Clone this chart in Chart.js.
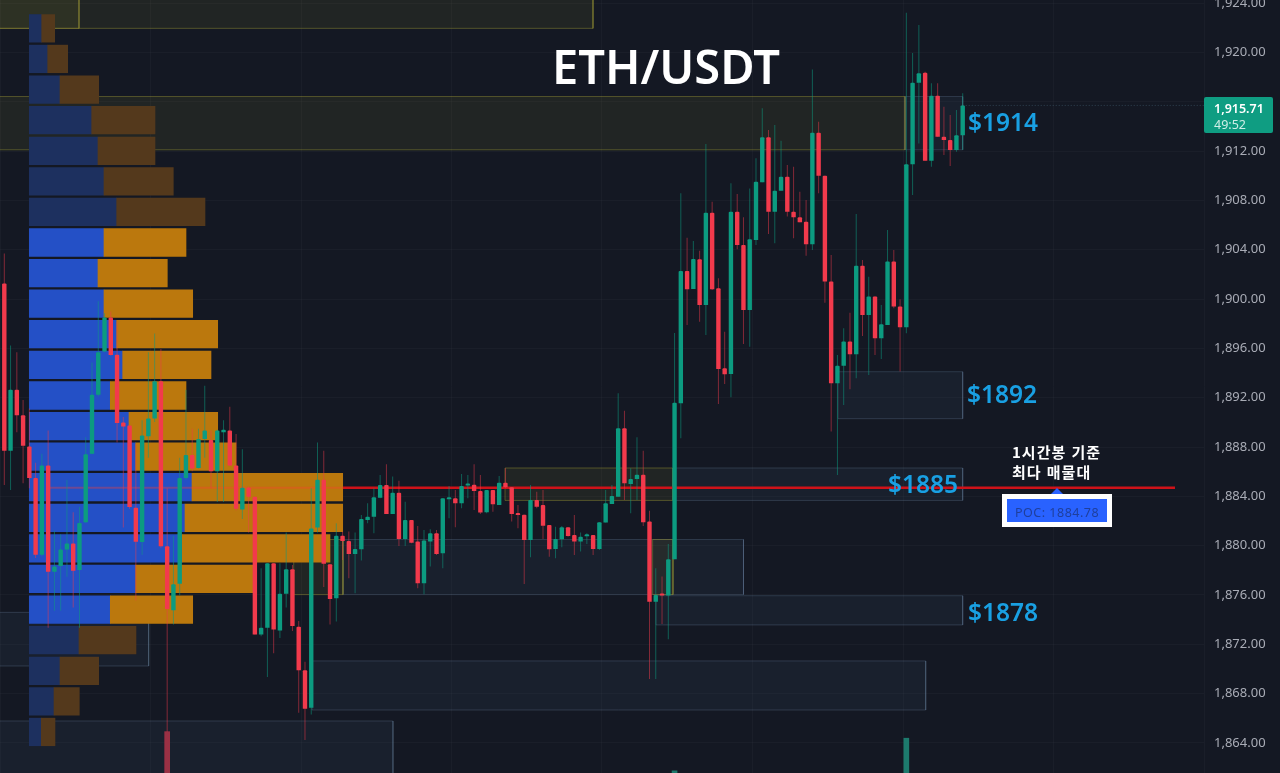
<!DOCTYPE html>
<html lang="ko">
<head>
<meta charset="utf-8">
<title>ETH/USDT</title>
<script src="https://cdn.jsdelivr.net/npm/chart.js@4"></script>
<style>
html,body{margin:0;padding:0;width:1280px;height:773px;overflow:hidden;background:#141823}
#c{position:absolute;left:0;top:0}
.t{position:absolute;white-space:nowrap;line-height:1}
.price{font:600 24.5px "Noto Sans",sans-serif;color:#19a0e3}
#title{left:552px;top:34px;font:600 47px "Noto Sans",sans-serif;color:#fff}
#tag{position:absolute;left:1204px;top:97px;width:69px;height:36px;background:#0f9d82;border-radius:2px}
#tag1{left:1214px;top:100px;font:600 12.5px "Noto Sans",sans-serif;color:#fff}
#tag2{left:1214px;top:116px;font:400 12.5px "Noto Sans",sans-serif;color:#cfeee7}
#poc{position:absolute;left:1002px;top:494px;width:100px;height:23px;border:5px solid #fff;background:#2962ff}
#poct{left:1015px;top:503.5px;font:400 12.5px "Noto Sans",sans-serif;color:#1f3f9c;letter-spacing:.5px}
#tri{position:absolute;left:1051px;top:488px;width:0;height:0;border-left:6px solid transparent;border-right:6px solid transparent;border-bottom:6px solid #2962ff}
.ko{font:700 15px "Noto Sans CJK KR",sans-serif;color:#fff;letter-spacing:1px}
</style>
</head>
<body>
<canvas id="c" width="1280" height="773"></canvas>
<div class="t" id="title">ETH/USDT</div>
<div class="t price" style="left:968px;top:105px">$1914</div>
<div class="t price" style="left:967px;top:377px">$1892</div>
<div class="t price" style="left:888px;top:467px">$1885</div>
<div class="t price" style="left:968px;top:595px">$1878</div>
<div id="tag"></div>
<div class="t" id="tag1">1,915.71</div>
<div class="t" id="tag2">49:52</div>
<div class="t ko" style="left:1012px;top:441px">1시간봉 기준</div>
<div class="t ko" style="left:1012px;top:461px">최다 매물대</div>
<div id="tri"></div>
<div id="poc"></div>
<div class="t" id="poct">POC: 1884.78</div>
<script>
const firstIndex = 23;
const opens = [1901.26,1887.69,1892.65,1890.58,1888.05,1885.48,1879.27,1886.50,1877.89,1878.36,1879.68,1880.18,1878.03,1881.89,1887.46,1892.24,1895.74,1898.50,1895.49,1889.98,1889.75,1883.08,1880.29,1888.87,1890.31,1893.34,1879.96,1874.77,1876.92,1885.48,1887.35,1886.30,1888.65,1888.57,1886.03,1889.20,1889.34,1886.50,1882.94,1884.70,1883.96,1872.79,1873.34,1878.58,1873.12,1876.10,1878.08,1873.42,1869.89,1866.86,1881.48,1885.34,1878.50,1875.73,1880.81,1880.38,1879.33,1879.70,1882.08,1882.35,1883.89,1884.92,1882.57,1884.30,1880.54,1882.08,1880.33,1876.95,1880.33,1881.00,1879.38,1883.76,1883.84,1883.43,1884.87,1884.95,1884.43,1882.70,1884.52,1883.30,1885.11,1884.73,1882.57,1882.51,1880.46,1883.70,1883.30,1881.68,1879.73,1880.51,1881.49,1880.87,1880.33,1880.76,1880.87,1879.73,1881.87,1883.38,1883.97,1889.52,1885.00,1885.41,1885.76,1881.95,1875.46,1876.08,1875.95,1878.89,1891.55,1902.28,1900.82,1903.23,1899.52,1907.01,1900.87,1894.39,1893.93,1907.09,1904.39,1899.12,1904.79,1909.47,1913.12,1907.09,1908.79,1909.93,1907.09,1906.63,1906.28,1904.44,1913.50,1910.01,1901.42,1893.17,1894.60,1896.55,1895.52,1902.71,1898.71,1900.20,1896.82,1897.90,1903.04,1899.39,1897.71,1910.93,1917.55,1918.36,1911.23,1916.50,1913.17,1912.90,1912.09,1913.28];
const closes = [1887.69,1892.65,1890.58,1888.10,1885.48,1879.27,1886.50,1877.89,1878.30,1879.68,1880.18,1877.97,1881.84,1887.41,1892.24,1895.69,1898.50,1895.46,1889.95,1889.67,1883.13,1880.32,1888.93,1890.31,1893.34,1879.96,1874.86,1876.87,1885.48,1887.35,1886.25,1888.65,1889.34,1886.03,1889.34,1889.40,1886.50,1882.99,1884.70,1883.96,1872.79,1873.34,1878.58,1873.20,1876.10,1878.08,1873.48,1869.89,1866.78,1881.39,1885.34,1878.53,1875.68,1880.81,1880.38,1879.33,1879.73,1882.16,1882.35,1883.92,1884.92,1882.57,1884.30,1880.54,1882.08,1880.24,1876.95,1880.41,1881.00,1879.33,1883.84,1883.84,1883.43,1884.84,1884.95,1884.43,1882.68,1884.52,1883.35,1885.11,1884.73,1882.57,1882.49,1880.46,1883.70,1883.16,1881.62,1879.70,1880.54,1881.49,1880.79,1880.33,1880.73,1880.84,1879.73,1881.89,1883.43,1884.03,1889.52,1885.06,1885.41,1885.76,1881.89,1875.46,1876.00,1875.95,1878.89,1891.60,1902.28,1900.79,1903.25,1899.52,1907.01,1900.79,1894.33,1893.90,1907.09,1904.39,1899.12,1904.85,1909.52,1913.12,1907.09,1908.79,1909.93,1907.09,1906.63,1906.23,1904.44,1913.50,1910.01,1901.42,1893.17,1894.60,1896.55,1895.52,1902.71,1898.71,1900.20,1896.82,1897.96,1903.04,1899.39,1897.71,1910.93,1917.55,1918.31,1911.23,1916.50,1913.17,1912.90,1912.09,1913.28,1915.71];
const highs = [1903.69,1896.24,1895.69,1891.82,1891.13,1886.72,1887.46,1889.34,1881.20,1880.93,1885.34,1882.72,1883.13,1888.79,1894.86,1899.82,1898.86,1899.00,1898.17,1890.44,1889.75,1888.24,1890.17,1895.69,1897.20,1895.96,1884.65,1880.79,1887.13,1892.65,1889.48,1889.48,1892.98,1889.34,1889.40,1890.17,1891.27,1889.06,1887.82,1884.79,1883.96,1878.17,1878.58,1878.58,1878.58,1881.06,1878.44,1873.89,1870.58,1884.65,1888.37,1887.69,1878.50,1881.81,1881.14,1881.14,1881.06,1882.49,1883.43,1884.65,1885.73,1886.60,1885.60,1885.27,1883.57,1882.08,1881.60,1881.27,1881.33,1881.27,1883.84,1884.84,1884.52,1885.81,1885.73,1886.60,1885.73,1884.52,1884.52,1885.65,1886.27,1884.73,1883.30,1882.51,1884.92,1884.38,1884.52,1881.68,1881.54,1881.60,1881.49,1882.49,1881.06,1881.00,1880.87,1881.89,1884.52,1884.92,1892.36,1890.95,1886.28,1888.79,1887.70,1882.84,1878.16,1877.49,1880.14,1897.25,1908.58,1904.98,1904.71,1903.93,1912.58,1907.90,1901.69,1897.36,1909.39,1908.52,1906.63,1908.98,1911.42,1915.47,1913.71,1914.12,1912.85,1910.88,1910.74,1908.71,1908.04,1918.63,1914.39,1910.01,1903.58,1895.47,1897.63,1898.90,1906.90,1903.17,1901.82,1900.20,1899.52,1905.60,1903.98,1899.98,1923.23,1919.96,1922.23,1918.44,1917.50,1917.50,1915.61,1914.93,1915.34,1916.69];
const lows = [1884.93,1884.51,1889.20,1885.06,1884.65,1878.99,1879.13,1873.34,1874.72,1874.72,1877.48,1874.99,1873.34,1881.84,1887.41,1892.10,1895.69,1895.41,1888.37,1881.48,1882.99,1875.55,1879.27,1887.13,1890.03,1879.83,1864.91,1873.61,1875.96,1885.34,1886.03,1886.25,1887.13,1884.65,1883.55,1883.55,1886.44,1882.86,1882.17,1881.06,1872.79,1872.65,1869.34,1871.27,1872.51,1874.99,1873.07,1866.44,1864.24,1866.31,1881.06,1876.65,1873.61,1873.84,1878.84,1877.35,1876.14,1878.79,1881.81,1881.00,1883.84,1882.57,1882.57,1879.97,1879.97,1880.19,1876.54,1876.05,1878.30,1879.25,1878.16,1882.22,1881.49,1883.03,1883.84,1882.89,1882.57,1882.62,1882.76,1883.30,1884.65,1881.95,1881.41,1876.89,1879.06,1883.03,1880.54,1879.11,1878.97,1879.87,1880.73,1879.25,1879.52,1880.14,1879.25,1879.65,1881.87,1883.38,1883.97,1883.71,1882.63,1883.71,1881.60,1869.19,1869.19,1873.65,1872.41,1878.89,1888.71,1897.90,1900.82,1898.17,1897.09,1900.74,1891.50,1893.12,1892.04,1904.04,1896.36,1896.14,1904.39,1909.47,1905.28,1904.52,1908.79,1906.69,1904.93,1906.23,1903.52,1903.98,1908.58,1899.71,1889.25,1885.74,1891.41,1892.68,1893.58,1897.01,1893.85,1895.47,1895.14,1897.90,1899.25,1894.12,1897.23,1908.44,1912.63,1911.23,1910.74,1913.17,1911.69,1910.79,1911.96,1912.09];

const volumeIndex = [49, 130, 167];
const volumeValue = [5.35, 0.28, 4.5];

const profilePrice = [1921.96,1919.48,1917.00,1914.52,1912.03,1909.55,1907.07,1904.59,1902.11,1899.63,1897.15,1894.66,1892.18,1889.70,1887.22,1884.74,1882.26,1879.78,1877.30,1874.81,1872.33,1869.85,1867.37,1864.89];
const profileBuy = [12.4,18.4,30.7,62.4,68.7,74.7,87.4,74.7,68.7,74.7,87.4,93.4,81,99.7,106.4,162.7,155.7,153,106.4,81,49.7,30.7,24.7,12];
const profileSell = [13,20,38.7,63.3,57,69.3,88.3,82,69.3,88.7,101,88.3,75.7,88.7,100.3,150.7,157.7,147.7,117.6,82.4,57,38.7,25.3,13.7];
const valueAreaFirst = 7, valueAreaLast = 19;

const zoneStart = [22, 22, 22, 166.79, 156.09, 102.93, 129.75, 77.07, 69.2, 126.5, 127.03, 72.12, 22, 22];
const zoneEnd   = [116.98, 34.93, 166.79, 176, 176, 129.75, 176, 141, 77.07, 129.75, 176, 170.1, 85.05, 46.05];
const zoneHigh  = [1925, 1925, 1916.43, 1916.43, 1894.11, 1886.30, 1886.30, 1880.50, 1880.50, 1880.50, 1875.94, 1870.65, 1865.78, 1874.59];
const zoneLow   = [1921.96, 1921.96, 1912.11, 1912.11, 1890.30, 1883.67, 1883.67, 1876.03, 1876.03, 1876.03, 1873.57, 1866.67, 1860, 1870.24];
const zoneTone  = ['y','y','y','b','b','y','b','b','y','y','b','b','b','b'];

const pocPrice = 1884.70;
const pocStart = 77.07, pocInnerStart = 30.3, pocEnd = 209.89;
const lastPrice = 1915.71, lastStart = 176, lastEnd = 214.6;
const xMin = 22.3135, xMax = 214.52, yMin = 1861.56, yMax = 1924.26;

const RED = '#f23a4c', GREEN = '#0c9b80';
const candleX = opens.map((_, i) => i + firstIndex);
const isUp = i => closes[i] >= opens[i];

const datasets = [];

zoneStart.forEach((s, k) => {
  const e = zoneEnd[k], hi = zoneHigh[k], lo = zoneLow[k], yellow = zoneTone[k] === 'y';
  datasets.push({
    type: 'line', order: 60 - k, xAxisID: 'x', yAxisID: 'y',
    data: [{x:s,y:hi},{x:e,y:hi},{x:e,y:lo},{x:s,y:lo},{x:s,y:hi}],
    fill: 'shape',
    backgroundColor: yellow ? 'rgba(150,145,50,0.11)' : 'rgba(90,125,170,0.08)',
    borderColor: yellow ? 'rgba(165,160,55,0.42)' : 'rgba(125,155,190,0.24)',
    borderWidth: 1, pointRadius: 0, tension: 0
  });
});

datasets.push({
  type: 'bar', order: 30, xAxisID: 'x', yAxisID: 'yv', grouped: false, barThickness: 5,
  data: volumeIndex.map((x, k) => ({x, y: [0, volumeValue[k]]})),
  backgroundColor: ['#9a3044', '#1d7a6d', '#1d7a6d']
});

datasets.push({
  type: 'bar', indexAxis: 'y', order: 26, xAxisID: 'xp', yAxisID: 'y', grouped: false, barThickness: 27.6,
  data: profilePrice.map((p, k) => ({y: p, x: [0, profileBuy[k]]})),
  backgroundColor: c => (c.dataIndex >= valueAreaFirst && c.dataIndex <= valueAreaLast) ? '#2450c6' : '#1d305f'
});
datasets.push({
  type: 'bar', indexAxis: 'y', order: 25, xAxisID: 'xp', yAxisID: 'y', grouped: false, barThickness: 27.6,
  data: profilePrice.map((p, k) => ({y: p, x: [profileBuy[k], profileBuy[k] + profileSell[k]]})),
  backgroundColor: c => (c.dataIndex >= valueAreaFirst && c.dataIndex <= valueAreaLast) ? '#bb780d' : '#54391c'
});

datasets.push({
  type: 'line', order: 22, xAxisID: 'x', yAxisID: 'y',
  data: [{x:pocInnerStart,y:pocPrice},{x:pocStart,y:pocPrice}],
  borderColor: 'rgba(255,60,50,0.35)', borderWidth: 2, pointRadius: 0, fill: false
});
datasets.push({
  type: 'line', order: 21, xAxisID: 'x', yAxisID: 'y',
  data: [{x:pocStart,y:pocPrice},{x:pocEnd,y:pocPrice}],
  borderColor: '#cf1219', borderWidth: 2.5, pointRadius: 0, fill: false
});
datasets.push({
  type: 'line', order: 20, xAxisID: 'x', yAxisID: 'y',
  data: [{x:lastStart,y:lastPrice},{x:lastEnd,y:lastPrice}],
  borderColor: 'rgba(90,130,150,0.4)', borderWidth: 1, borderDash: [1,2], pointRadius: 0, fill: false
});

datasets.push({
  type: 'bar', order: 12, xAxisID: 'x', yAxisID: 'y', grouped: false, barThickness: 1, inflateAmount: 0,
  data: candleX.map((x, i) => ({x, y: [lows[i], highs[i]]})),
  backgroundColor: c => isUp(c.dataIndex) ? 'rgba(12,155,128,0.55)' : 'rgba(242,58,76,0.5)'
});
datasets.push({
  type: 'bar', order: 10, xAxisID: 'x', yAxisID: 'y', grouped: false, barThickness: 4.4, inflateAmount: 0, minBarLength: 2,
  data: candleX.map((x, i) => ({x, y: [opens[i], closes[i]]})),
  backgroundColor: c => isUp(c.dataIndex) ? GREEN : RED,
  borderRadius: 1
});

new Chart(document.getElementById('c'), {
  type: 'bar',
  data: { datasets },
  options: {
    responsive: false, animation: false, devicePixelRatio: 1,
    layout: { padding: 0 },
    plugins: { legend: { display: false }, tooltip: { enabled: false }, title: { display: false } },
    scales: {
      x: {
        type: 'linear', min: xMin, max: xMax, offset: false, position: 'bottom',
        grid: { color: 'rgba(255,255,255,0.026)', offset: false, drawTicks: false },
        border: { display: false },
        ticks: { display: false, stepSize: 24, includeBounds: false },
        afterFit: s => { s.height = 0; s.paddingLeft = s.paddingRight = 0; }
      },
      xp: { type: 'linear', min: -29.3, max: 1174.7, display: false, offset: false, grid: { offset: false } },
      yv: { type: 'linear', min: 0, max: 100, display: false, position: 'left', beginAtZero: true },
      y: {
        type: 'linear', position: 'right', min: yMin, max: yMax, offset: false, beginAtZero: false,
        grid: { color: 'rgba(255,255,255,0.026)', offset: false, drawTicks: false },
        border: { display: false },
        ticks: {
          stepSize: 4, includeBounds: false, autoSkip: false, padding: 10,
          color: '#a9acb6', crossAlign: 'near',
          font: { family: '"Noto Sans", sans-serif', size: 13 },
          callback: v => v.toLocaleString('en-US', { minimumFractionDigits: 2, maximumFractionDigits: 2 })
        },
        afterFit: s => { s.width = 76; s.paddingTop = s.paddingBottom = 0; }
      }
    }
  }
});
</script>
</body>
</html>
